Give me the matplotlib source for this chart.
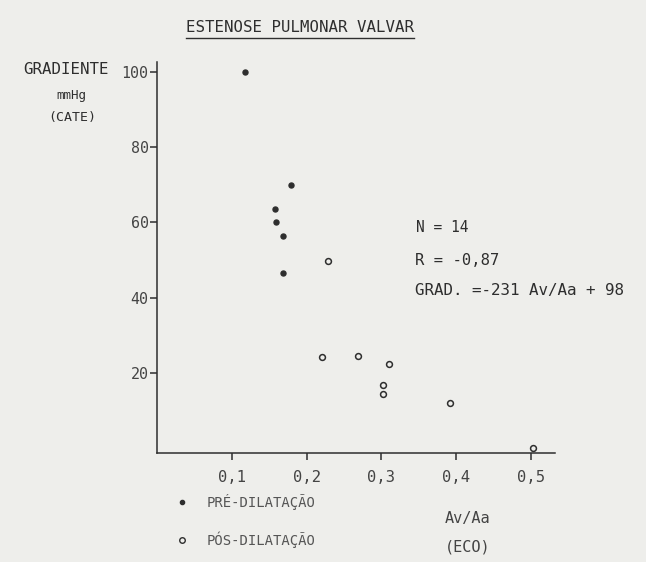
import matplotlib
matplotlib.use('Agg')
import matplotlib.pyplot as plt
from matplotlib.lines import Line2D

plt.rcParams['font.family'] = ['DejaVu Sans Mono']

# dados
pre_x = [0.118, 0.179, 0.158, 0.159, 0.169, 0.169]
pre_y = [100, 70, 63.5, 60, 56.3, 46.5]
pos_x = [0.229, 0.220, 0.269, 0.310, 0.302, 0.302, 0.391, 0.503]
pos_y = [49.6, 24.3, 24.5, 22.3, 16.8, 14.5, 12.1, 0]
xticks = [0.1, 0.2, 0.3, 0.4, 0.5]
xtick_labels = ['0,1', '0,2', '0,3', '0,4', '0,5']
yticks = [20, 40, 60, 80, 100]
ytick_labels = ['20', '40', '60', '80', '100']

W, H = 646, 562
bg = '#eeeeeb'
ink = '#2e2e2e'

def fx(px):
    return px / W

def fy(py):
    return 1 - py / H

fig = plt.figure(figsize=(W / 100, H / 100), dpi=100, facecolor=bg)
ax = fig.add_axes([fx(157), fy(453), fx(555) - fx(157), fy(62) - fy(453)])
ax.set_facecolor(bg)

ax.plot(pre_x, pre_y, 'o', ms=3.6, color=ink, mec=ink, clip_on=False)
ax.plot(pos_x, pos_y, 'o', ms=4.2, mfc='none', mec=ink, mew=1.1, clip_on=False)

ax.set_xlim(0, 0.532)
ax.set_ylim(-1.3, 102.6)
for s in ['top', 'right']:
    ax.spines[s].set_visible(False)
for s in ['left', 'bottom']:
    ax.spines[s].set_color(ink)
    ax.spines[s].set_linewidth(1.1)
ax.set_xticks(xticks)
ax.set_xticklabels(xtick_labels)
ax.set_yticks(yticks)
ax.set_yticklabels(ytick_labels)
ax.tick_params(axis='x', direction='out', length=5, width=1.1, color=ink,
               labelsize=11.2, labelcolor='#444444', pad=7)
ax.tick_params(axis='y', direction='out', length=5, width=1.1, color=ink,
               labelsize=10.8, labelcolor='#444444', pad=1)

# título sublinhado
fig.text(fx(300), fy(27), 'ESTENOSE PULMONAR VALVAR', ha='center', va='center',
         fontsize=11.3, color=ink)
fig.add_artist(Line2D([fx(186), fx(414)], [fy(38), fy(38)], color=ink, lw=1.0))

# rótulo do eixo y
fig.text(fx(66), fy(69), 'GRADIENTE', ha='center', va='center', fontsize=11.3, color=ink)
fig.text(fx(71), fy(95), 'mmHg', ha='center', va='center', fontsize=9, color=ink)
fig.text(fx(72), fy(118), '(CATE)', ha='center', va='center', fontsize=9.5, color=ink)

# estatística
fig.text(fx(416), fy(228), 'N = 14', ha='left', va='center', fontsize=10.5, color=ink)
fig.text(fx(415), fy(260), 'R = -0,87', ha='left', va='center', fontsize=11.2, color=ink)
fig.text(fx(415), fy(290), 'GRAD. =-231 Av/Aa + 98', ha='left', va='center',
         fontsize=11.4, color=ink)

# rótulo do eixo x
fig.text(fx(468), fy(518), 'Av/Aa', ha='center', va='center', fontsize=11, color='#444444')
fig.text(fx(468), fy(547), '(ECO)', ha='center', va='center', fontsize=11, color='#444444')

# legenda
fig.add_artist(Line2D([fx(182)], [fy(502)], marker='o', ms=3.0, color=ink, lw=0))
fig.add_artist(Line2D([fx(182)], [fy(540)], marker='o', ms=4.0, mfc='none', mec=ink,
                      mew=1.0, lw=0))
fig.text(fx(207), fy(502), 'PRÉ-DILATAÇÃO', ha='left', va='center', fontsize=10,
         color='#555555')
fig.text(fx(207), fy(540), 'PÓS-DILATAÇÃO', ha='left', va='center', fontsize=10,
         color='#555555')

fig.savefig('out.png', dpi=100, facecolor=bg)
